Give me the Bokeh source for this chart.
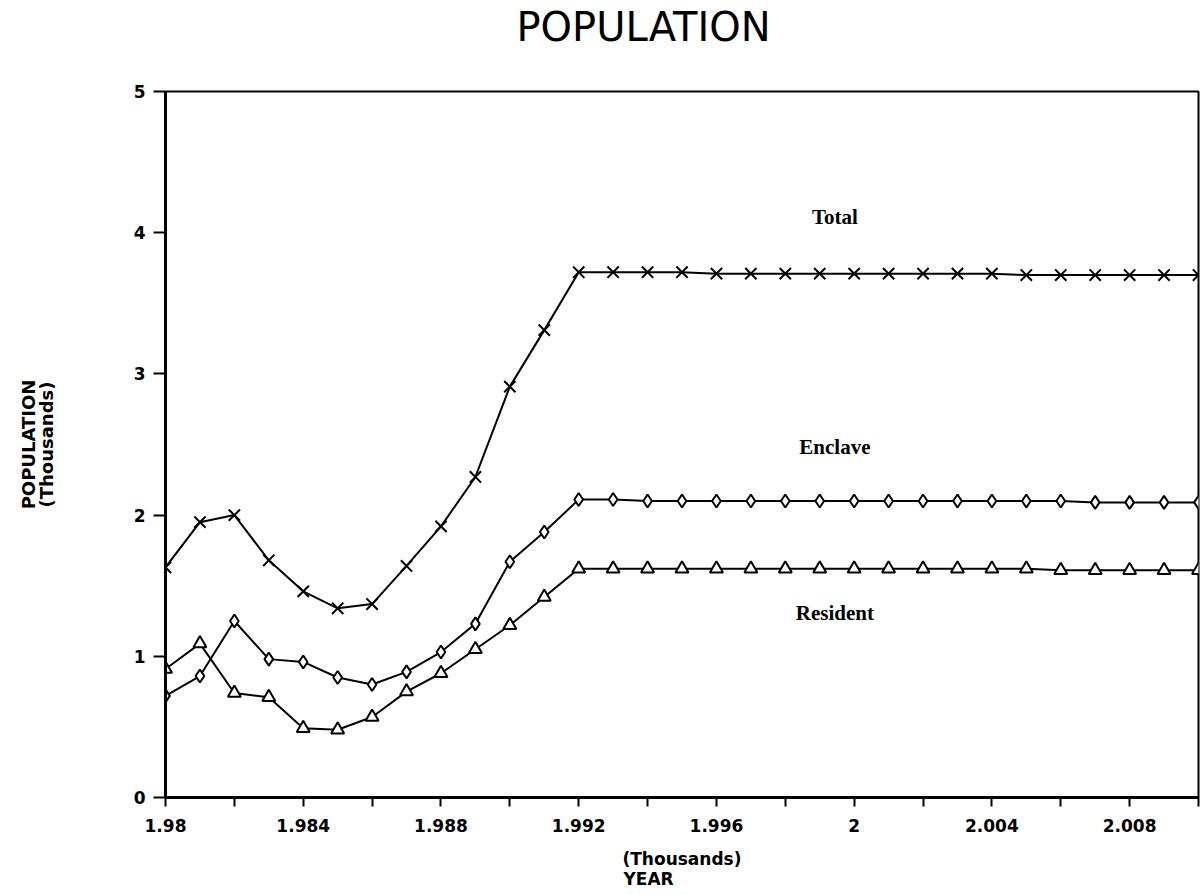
from bokeh.plotting import figure
from bokeh.models import Range1d, FixedTicker, Label, Title
from bokeh.embed import file_html
from bokeh.resources import INLINE

# ---- data ----
years = list(range(1980, 2011))
total = [1.63, 1.95, 2.00, 1.68, 1.46, 1.34, 1.37, 1.64, 1.92, 2.27, 2.91, 3.31,
         3.72, 3.72, 3.72, 3.72, 3.71, 3.71, 3.71, 3.71, 3.71, 3.71, 3.71, 3.71,
         3.71, 3.70, 3.70, 3.70, 3.70, 3.70, 3.70]
enclave = [0.72, 0.86, 1.25, 0.98, 0.96, 0.85, 0.80, 0.89, 1.03, 1.23, 1.67, 1.88,
           2.11, 2.11, 2.10, 2.10, 2.10, 2.10, 2.10, 2.10, 2.10, 2.10, 2.10, 2.10,
           2.10, 2.10, 2.10, 2.09, 2.09, 2.09, 2.09]
resident = [0.91, 1.09, 0.74, 0.71, 0.49, 0.48, 0.57, 0.75, 0.88, 1.05, 1.22, 1.42,
            1.62, 1.62, 1.62, 1.62, 1.62, 1.62, 1.62, 1.62, 1.62, 1.62, 1.62, 1.62,
            1.62, 1.62, 1.61, 1.61, 1.61, 1.61, 1.61]
x_major = [1.98, 1.984, 1.988, 1.992, 1.996, 2.0, 2.004, 2.008]
x_minor = [1.982, 1.986, 1.990, 1.994, 1.998, 2.002, 2.006, 2.010]
x_labels = ["1.98", "1.984", "1.988", "1.992", "1.996", "2", "2.004", "2.008"]
y_ticks = [0, 1, 2, 3, 4, 5]
y_labels = ["0", "1", "2", "3", "4", "5"]

xs = [y / 1000 for y in years]

sans = "DejaVu Sans"
serif = "Liberation Serif"

p = figure(width=1200, height=888, output_backend="svg", toolbar_location=None,
           title=None,
           x_range=Range1d(1.98, 2.010), y_range=Range1d(0, 5),
           min_border_left=165, min_border_right=2, min_border_top=91,
           min_border_bottom=91)
p.background_fill_color = "white"
p.border_fill_color = "white"
p.outline_line_color = "black"
p.outline_line_width = 2
p.xgrid.visible = False
p.ygrid.visible = False

# spacer between frame and title, then the title itself
p.add_layout(Title(text=" ", text_font_size="1px", standoff=38), "above")
p.add_layout(Title(text="POPULATION", align="left", offset=351, standoff=2,
                   text_font=sans, text_font_style="normal", text_font_size="40px",
                   text_color="black"), "above")

for ax in (p.xaxis[0], p.yaxis[0]):
    ax.axis_line_width = 3
    ax.axis_line_color = "black"
    ax.major_tick_line_width = 2
    ax.minor_tick_line_width = 2
    ax.major_tick_in = 0
    ax.minor_tick_in = 0
    ax.major_label_text_font = sans
    ax.major_label_text_font_style = "bold"
    ax.major_label_text_font_size = "17px"
    ax.major_label_text_color = "black"
    ax.axis_label_text_font = sans
    ax.axis_label_text_font_style = "bold"
    ax.axis_label_text_color = "black"

p.xaxis.ticker = FixedTicker(ticks=x_major, minor_ticks=x_minor)
p.xaxis.major_label_overrides = {t: l for t, l in zip(x_major, x_labels)}
p.xaxis.major_tick_out = 9
p.xaxis.minor_tick_out = 9
p.xaxis.major_label_standoff = 12
p.xaxis.axis_label = "(Thousands)"
p.xaxis.axis_label_standoff = 14
p.xaxis.axis_label_text_font_size = "17px"

p.yaxis.ticker = FixedTicker(ticks=y_ticks, minor_ticks=[])
p.yaxis.major_label_overrides = {t: l for t, l in zip(y_ticks, y_labels)}
p.yaxis.major_tick_out = 12
p.yaxis.minor_tick_out = 0
p.yaxis.major_label_standoff = 8
p.yaxis.axis_label = "(Thousands)"
p.yaxis.axis_label_standoff = 74
p.yaxis.axis_label_text_font_size = "18px"

# remaining axis-title lines
p.add_layout(Title(text="YEAR", align="left", offset=458, standoff=-10,
                   text_font=sans, text_font_style="bold", text_font_size="17px",
                   text_color="black"), "below")
p.add_layout(Title(text="POPULATION", align="center", standoff=-12,
                   text_font=sans, text_font_style="bold", text_font_size="18px",
                   text_color="black"), "left")

# series
for ys, marker, size in ((total, "x", 16), (enclave, "diamond", 13), (resident, "triangle", 13)):
    p.line(xs, ys, line_color="black", line_width=2)
    p.scatter(xs, ys, marker=marker, size=size, line_color="black", line_width=2,
              fill_color="white")

# in-plot series labels
for txt, yv in (("Total", 4.11), ("Enclave", 2.48), ("Resident", 1.31)):
    p.add_layout(Label(x=1.99944, y=yv, text=txt, text_font=serif, text_font_style="bold",
                       text_font_size="21px", text_align="center", text_baseline="middle",
                       text_color="black"))

open("out.html", "w").write(file_html(p, INLINE))
